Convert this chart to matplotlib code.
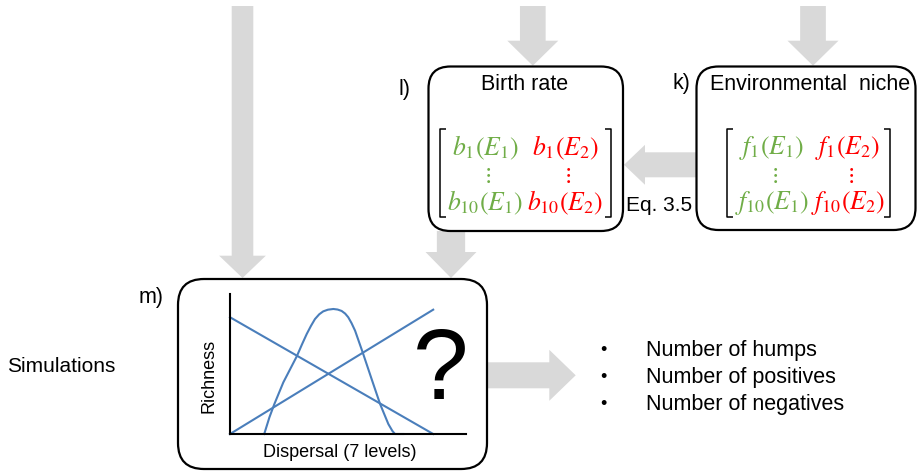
import matplotlib
matplotlib.use("Agg")
import matplotlib.pyplot as plt
from matplotlib.patches import FancyBboxPatch, Polygon

plt.rcParams["font.family"] = ["Liberation Sans", "DejaVu Sans"]
plt.rcParams["mathtext.fontset"] = "stix"

# inner sketch: richness vs dispersal (arbitrary units)
dispersal_line = [0.0, 8.61]
richness_down = [8.34, 0.0]
richness_up = [0.0, 8.88]
dispersal_hump = [1.45, 1.67, 1.88, 2.26, 2.83, 3.05, 3.25, 3.43, 3.60, 3.78, 3.95,
                  4.15, 4.38, 4.56, 4.73, 4.88, 5.01, 5.15, 5.30, 5.62, 6.00, 6.36,
                  6.71, 6.88, 6.99, 7.34]
richness_hump = [0.0, 1.19, 2.14, 3.69, 5.55, 6.40, 7.14, 7.72, 8.21, 8.55, 8.76,
                 8.88, 8.93, 8.89, 8.79, 8.60, 8.34, 7.92, 7.38, 5.84, 3.93, 2.14,
                 0.71, 0.22, 0.0, 0.0]

birth_cells = [r"$b_1(E_1)$", r"$b_1(E_2)$", r"$b_{10}(E_1)$", r"$b_{10}(E_2)$"]
niche_cells = [r"$f_1(E_1)$", r"$f_1(E_2)$", r"$f_{10}(E_1)$", r"$f_{10}(E_2)$"]
outputs = ["Number of humps", "Number of positives", "Number of negatives"]

GRAY = "#d9d9d9"
GREEN = "#70ad47"
RED = "#ff0000"
BLUE = "#4a7ebb"

fig = plt.figure(figsize=(9.19, 4.77), dpi=100)
ax = fig.add_axes([0, 0, 1, 1])
ax.set_xlim(0, 919)
ax.set_ylim(477, 0)
ax.axis("off")


def v_arrow(cx, y0, yh, tip, sw, hw):
    pts = [(cx - sw / 2, y0), (cx + sw / 2, y0), (cx + sw / 2, yh), (cx + hw / 2, yh),
           (cx, tip), (cx - hw / 2, yh), (cx - sw / 2, yh)]
    ax.add_patch(Polygon(pts, closed=True, fc=GRAY, ec="none", zorder=1))


def h_arrow(cy, x0, xh, tip, sw, hw):
    pts = [(x0, cy - sw / 2), (x0, cy + sw / 2), (xh, cy + sw / 2), (xh, cy + hw / 2),
           (tip, cy), (xh, cy - hw / 2), (xh, cy - sw / 2)]
    ax.add_patch(Polygon(pts, closed=True, fc=GRAY, ec="none", zorder=1))


v_arrow(242.5, 7, 256.7, 279, 21.6, 46.7)
v_arrow(451, 232, 253, 279, 28.3, 51)
v_arrow(532.8, 7, 41.7, 66.7, 25.7, 51)
v_arrow(813, 7, 41.7, 66.7, 25.7, 51)
h_arrow(165.8, 696, 645, 624, 25, 40)
h_arrow(376.3, 487, 549.3, 575.7, 26, 51)


def rbox(x0, y0, x1, y1, r):
    ax.add_patch(FancyBboxPatch((x0, y0), x1 - x0, y1 - y0,
                                boxstyle=f"round,pad=0,rounding_size={r}",
                                fc="none", ec="black", lw=1.6, zorder=3))


rbox(428.5, 67.5, 623, 232, 22)
rbox(696.5, 67.5, 915.5, 231, 22)
rbox(178, 280, 487, 470, 26)

ax.text(525, 85, "Birth rate", fontsize=15.5, ha="center", va="center")
ax.text(810, 84, "Environmental  niche", fontsize=15.5, ha="center", va="center")
ax.text(405, 90, "l)", fontsize=15.5, ha="center", va="center")
ax.text(681, 84, "k)", fontsize=15.5, ha="center", va="center")
ax.text(151, 298, "m)", fontsize=15.5, ha="center", va="center")
ax.text(61, 367, "Simulations", fontsize=15, ha="center", va="center")
ax.text(659, 206, "Eq. 3.5", fontsize=15, ha="center", va="center")
ax.text(441, 373, "?", fontsize=72, ha="center", va="center")
ax.text(209, 376, "Richness", fontsize=13, rotation=90, ha="center", va="center")
ax.text(340, 453, "Dispersal (7 levels)", fontsize=13, ha="center", va="center")

for i, t in enumerate(outputs):
    y = 351 + 27 * i
    ax.text(603, y, "\u2022", fontsize=13, ha="center", va="center")
    ax.text(646, y, t, fontsize=15.5, ha="left", va="center")


def matrix(cells, x_left, x_right, cols):
    colors = [GREEN, RED, GREEN, RED]
    rows = [148, 148, 203, 203]
    for c, col, xc, y in zip(cells, colors, cols + cols, rows):
        ax.text(xc, y, c, fontsize=18.5, color=col, ha="center", va="center")
    for col, xc in zip([GREEN, RED], cols):
        ax.text(xc + 2, 176, r"$\vdots$", fontsize=16, color=col, ha="center", va="center")
    for xb, d in [(x_left, 6), (x_right, -6)]:
        ax.plot([xb + d, xb, xb, xb + d], [130, 130, 218, 218], color="black", lw=1.1,
                solid_capstyle="butt", zorder=4)


matrix(birth_cells, 440, 611, [485, 565])
matrix(niche_cells, 727, 890, [772, 848])

# inset sketch axes
sk = fig.add_axes([230 / 919, (477 - 435) / 477, 236 / 919, 140 / 477])
sk.set_xlim(0, 10)
sk.set_ylim(0, 10)
sk.patch.set_alpha(0)
for s in ["top", "right"]:
    sk.spines[s].set_visible(False)
for s in ["left", "bottom"]:
    sk.spines[s].set_linewidth(1.5)
sk.set_xticks([])
sk.set_yticks([])
sk.plot(dispersal_line, richness_down, color=BLUE, lw=1.5, clip_on=False)
sk.plot(dispersal_line, richness_up, color=BLUE, lw=1.5, clip_on=False)
sk.plot(dispersal_hump, richness_hump, color=BLUE, lw=1.5, clip_on=False)

fig.savefig("out.png", dpi=100)
